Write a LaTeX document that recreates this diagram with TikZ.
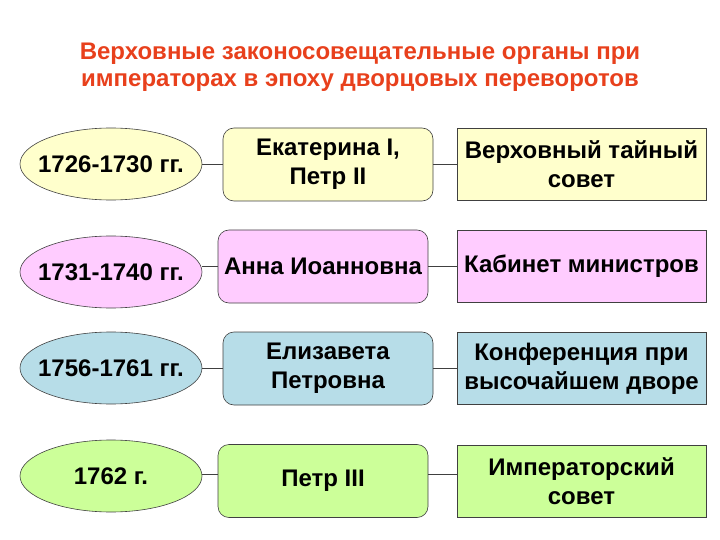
\documentclass[tikz,border=0pt]{standalone}
\usepackage{fontspec}
\setmainfont{Liberation Sans}
\usetikzlibrary{shapes.geometric}

\begin{document}
\begin{tikzpicture}[x=1pt,y=-1pt,
  period/.style={ellipse, draw=black!75, line width=0.6pt, minimum width=182pt,
    minimum height=72pt, inner xsep=-14pt, inner ysep=0pt,
    font=\fontsize{24}{28}\selectfont\bfseries},
  ruler/.style={rectangle, rounded corners=11pt, draw=black!75, line width=0.6pt,
    minimum width=210pt, minimum height=73pt, align=center, inner sep=0pt,
    font=\fontsize{24}{29}\selectfont\bfseries},
  organ/.style={rectangle, draw=black!75, line width=0.6pt, minimum width=249pt,
    minimum height=72pt, align=center, inner sep=0pt,
    font=\fontsize{24}{29}\selectfont\bfseries},
  link/.style={draw=black!75, line width=0.6pt}]

% Цвета строк
\definecolor{colYel}{HTML}{FFFFCC}
\definecolor{colPink}{HTML}{FFCCFF}
\definecolor{colBlue}{HTML}{B7DDE8}
\definecolor{colGreen}{HTML}{CCFF99}
\definecolor{colTitle}{HTML}{E8401C}

\useasboundingbox (0,0) rectangle (720,540);

% Заголовок
\node[font=\fontsize{24}{27}\selectfont\bfseries, text=colTitle, align=center]
  (title) at (360,67) {Верховные законосовещательные органы при\\
  императорах в эпоху дворцовых переворотов};

% 1726-1730
\node[period, fill=colYel] (p1) at (111,164) {1726-1730 гг.};
\node[ruler, fill=colYel] (r1) at (328,164.5) {Екатерина I,\\Петр II};
\node[organ, fill=colYel] (o1) at (581.5,164) {Верховный тайный\\совет};

% 1731-1740
\node[period, fill=colPink] (p2) at (111,272) {1731-1740 гг.};
\node[ruler, fill=colPink] (r2) at (323,266.5) {Анна Иоанновна};
\node[organ, fill=colPink] (o2) at (581.5,266.5) {Кабинет министров};

% 1756-1761
\node[period, fill=colBlue] (p3) at (111,368) {1756-1761 гг.};
\node[ruler, fill=colBlue] (r3) at (328,368.5) {Елизавета\\Петровна};
\node[organ, fill=colBlue] (o3) at (581.5,368.5) {Конференция при\\высочайшем дворе};

% 1762
\node[period, fill=colGreen] (p4) at (111,476) {1762 г.};
\node[ruler, fill=colGreen] (r4) at (323,481) {Петр III};
\node[organ, fill=colGreen] (o4) at (581.5,481) {Императорский\\совет};

% Связи
\draw[link] (p1.east) -- (r1.west |- p1.east);
\draw[link] (r1.east |- p1.east) -- (o1.west |- p1.east);
\draw[link] (p2.east |- r2.west) -- (r2.west);
\draw[link] (r2.east) -- (o2.west);
\draw[link] (p3.east) -- (r3.west |- p3.east);
\draw[link] (r3.east |- p3.east) -- (o3.west |- p3.east);
\draw[link] (p4.east |- 0,474) -- (r4.west |- 0,474);
\draw[link] (r4.east |- 0,474) -- (o4.west |- 0,474);

\end{tikzpicture}
\end{document}
